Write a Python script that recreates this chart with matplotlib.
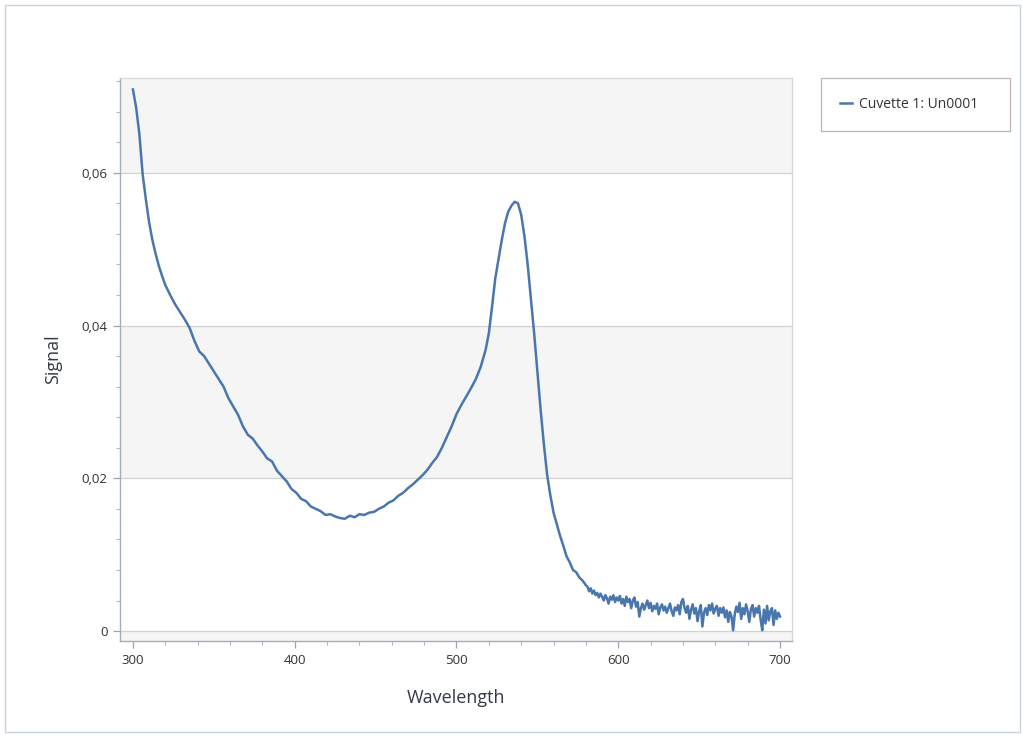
import matplotlib
matplotlib.use("Agg")
import matplotlib.pyplot as plt
from matplotlib.ticker import MultipleLocator, FuncFormatter
from matplotlib.patches import Rectangle

# Main part of the spectrum (300-578 nm)
wavelength_main = [300, 302, 304, 306, 308, 310, 312, 314, 316, 318, 320, 323, 326, 329, 332, 335, 338, 341, 344, 347,
                   350, 353, 356, 359, 362, 365, 368, 371, 374, 377, 380, 383, 386, 389, 392, 395, 398, 401, 404, 407,
                   410, 413, 416, 419, 422, 425, 428, 431, 434, 437, 440, 443, 446, 449, 452, 455, 458, 461, 464, 467,
                   470, 473, 476, 479, 482, 485, 488, 491, 494, 497, 500, 503, 506, 509, 512, 515, 518, 520, 522, 524,
                   526, 528, 530, 532, 534, 536, 538, 540, 542, 544, 546, 548, 550, 552, 554, 556, 558, 560, 562, 564,
                   566, 568, 570, 572, 574, 576, 578]
signal_main = [0.0709, 0.0685, 0.0650, 0.0598, 0.0565, 0.0535, 0.0512, 0.0494, 0.0478, 0.0465, 0.0453, 0.0440, 0.0428, 0.0418, 0.0408, 0.0397, 0.0380, 0.0366, 0.0360, 0.0350,
               0.0340, 0.0330, 0.0320, 0.0305, 0.0294, 0.0283, 0.0268, 0.0257, 0.0252, 0.0243, 0.0235, 0.0226, 0.0222, 0.0210, 0.0203, 0.0196, 0.0186, 0.0181, 0.0173, 0.0170,
               0.0163, 0.0160, 0.0157, 0.0152, 0.0153, 0.0150, 0.0148, 0.0147, 0.0151, 0.0149, 0.0153, 0.0152, 0.0155, 0.0156, 0.0160, 0.0163, 0.0168, 0.0171, 0.0177, 0.0181,
               0.0187, 0.0192, 0.0198, 0.0204, 0.0211, 0.0220, 0.0228, 0.0240, 0.0254, 0.0268, 0.0284, 0.0296, 0.0307, 0.0318, 0.0330, 0.0346, 0.0368, 0.0390, 0.0425, 0.0462,
               0.0487, 0.0512, 0.0534, 0.0549, 0.0557, 0.0562, 0.0560, 0.0545, 0.0517, 0.0480, 0.0435, 0.0390, 0.0340, 0.0290, 0.0245, 0.0205, 0.0178, 0.0155, 0.0140, 0.0125,
               0.0112, 0.0098, 0.0090, 0.0080, 0.0077, 0.0070, 0.0066]

# Noisy tail (580-700 nm, 1 nm steps)
wavelength_tail = list(range(580, 701))
signal_tail = [0.0060, 0.0058, 0.0052, 0.0056, 0.0049, 0.0053, 0.0047, 0.0050, 0.0044, 0.0049, 0.0045, 0.0040, 0.0047, 0.0043, 0.0036, 0.0045, 0.0041, 0.0047, 0.0038, 0.0044, 0.0040,
               0.0046, 0.0036, 0.0042, 0.0033, 0.0045, 0.0038, 0.0042, 0.0030, 0.0040, 0.0044, 0.0032, 0.0038, 0.0019, 0.0030, 0.0036, 0.0028, 0.0034, 0.0040, 0.0030, 0.0037,
               0.0026, 0.0033, 0.0029, 0.0036, 0.0022, 0.0031, 0.0035, 0.0027, 0.0032, 0.0024, 0.0030, 0.0036, 0.0026, 0.0020, 0.0031, 0.0027, 0.0034, 0.0022, 0.0038, 0.0042,
               0.0030, 0.0024, 0.0033, 0.0016, 0.0028, 0.0035, 0.0023, 0.0030, 0.0013, 0.0026, 0.0034, 0.0006, 0.0024, 0.0030, 0.0021, 0.0034, 0.0027, 0.0036, 0.0023, 0.0029,
               0.0033, 0.0020, 0.0030, 0.0024, 0.0031, 0.0018, 0.0027, 0.0012, 0.0025, 0.0019, 0.0001, 0.0022, 0.0032, 0.0025, 0.0037, 0.0016, 0.0030, 0.0022, 0.0035, 0.0026,
               0.0012, 0.0029, 0.0034, 0.0019, 0.0030, 0.0024, 0.0033, 0.0015, 0.0001, 0.0028, 0.0010, 0.0033, 0.0014, 0.0026, 0.0030, 0.0008, 0.0027, 0.0016, 0.0024, 0.0019]

x_ticks = [300, 400, 500, 600, 700]
y_ticks = [0.0, 0.02, 0.04, 0.06]
series_name = "Cuvette 1: Un0001"

wavelength = wavelength_main + wavelength_tail
signal = signal_main + signal_tail

plt.rcParams['font.family'] = ['Open Sans', 'DejaVu Sans']

fig = plt.figure(figsize=(10.22, 7.36), dpi=100)
fig.patch.set_facecolor('white')
fig.patches.append(Rectangle((5/1022, 4/736), 1015/1022, 727/736, transform=fig.transFigure,
                             fill=False, edgecolor='#c9d3df', linewidth=1.0))

ax = fig.add_axes([120/1022, 95/736, 672/1022, 563/736])
xmin, xmax = 292, 707.4
ymin, ymax = -0.0013, 0.0724
ax.set_xlim(xmin, xmax)
ax.set_ylim(ymin, ymax)

band = '#f5f5f5'
ax.axhspan(ymin, 0.0, color=band, zorder=0, lw=0)
ax.axhspan(0.02, 0.04, color=band, zorder=0, lw=0)
ax.axhspan(0.06, ymax, color=band, zorder=0, lw=0)
for yv in y_ticks:
    ax.axhline(yv, color='#d2d2d2', lw=0.9, zorder=1)

ax.plot(wavelength, signal, color='#4a76ae', lw=1.8, zorder=3, label=series_name)

ax.set_xticks(x_ticks)
ax.set_yticks(y_ticks)
ax.xaxis.set_minor_locator(MultipleLocator(20))
ax.yaxis.set_minor_locator(MultipleLocator(0.004))
ax.yaxis.set_major_formatter(FuncFormatter(lambda v, p: "0" if abs(v) < 1e-9 else f"{v:.2f}".replace('.', ',')))
ax.tick_params(axis='both', which='major', direction='out', length=5, width=0.9, color='#9aa4b2',
               labelsize=9.5, labelcolor='#333333', pad=4)
ax.tick_params(axis='both', which='minor', direction='out', length=3, width=0.8, color='#b0b8c4')

for s in ['left', 'bottom']:
    ax.spines[s].set_color('#a3adbb')
    ax.spines[s].set_linewidth(1.0)
for s in ['top', 'right']:
    ax.spines[s].set_color('#d4d8de')
    ax.spines[s].set_linewidth(0.9)

ax.set_xlabel('Wavelength', fontsize=13, color='#333a45', labelpad=16)
ax.set_ylabel('Signal', fontsize=13, color='#333a45', labelpad=14)

leg = fig.legend(loc='upper left', bbox_to_anchor=(821/1022, 1 - 127/736, 189/1022, 49/736),
                 mode='expand', frameon=True, fancybox=False, shadow=False, fontsize=10,
                 handlelength=0.9, handletextpad=0.45, borderpad=1.35, borderaxespad=0)
frame = leg.get_frame()
frame.set_edgecolor('#a8a8a8')
frame.set_linewidth(0.9)
for t in leg.get_texts():
    t.set_color('#333333')

fig.savefig('out.png', dpi=100, facecolor='white')
